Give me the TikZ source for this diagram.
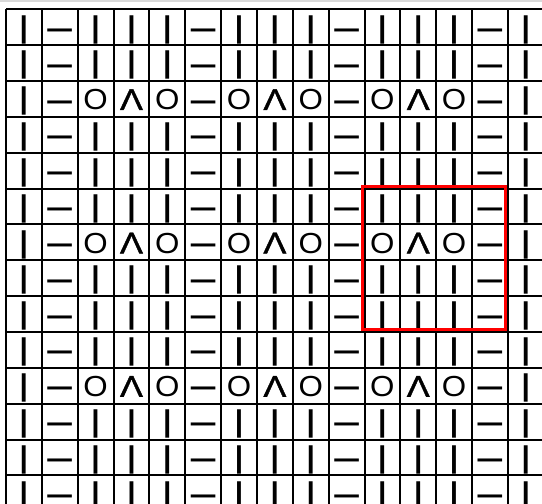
\documentclass[tikz,border=0pt]{standalone}
\usepackage{fontspec}
\setmainfont{Liberation Sans}
\newfontfamily\lamfont[FakeBold=1.2]{Liberation Sans}
\begin{document}
\begin{tikzpicture}[x=1pt,y=-1pt,
  gridline/.style={line width=2pt,black},
  topline/.style={line width=1.5pt,black!15},
  sym/.style={anchor=base,inner sep=0pt},
  barsym/.style={sym,font=\fontsize{30}{30}\selectfont\bfseries},
  dashsym/.style={sym,font=\fontsize{30}{30}\selectfont\bfseries},
  osym/.style={sym,font=\fontsize{29}{29}\selectfont},
  lsym/.style={sym,font=\lamfont\fontsize{30}{30}\selectfont},
  hilite/.style={draw=red,line width=3pt}]
\useasboundingbox (0,0) rectangle (542,504);
\fill[white] (0,0) rectangle (542,504);
\clip (0,0) rectangle (542,504);
\def\cw{35.85}
\def\xo{6}
\def\yo{9.3}
\draw[topline] (0,1) -- (542,1);
% grid
\foreach \i in {0,...,15}
  \draw[gridline] ({\xo+\cw*\i},\yo) -- ({\xo+\cw*\i},{\yo+\cw*14});
\foreach \j in {0,...,14}
  \draw[gridline] (\xo,{\yo+\cw*\j}) -- ({\xo+\cw*15},{\yo+\cw*\j});
% edge bars and purl dashes
\foreach \r in {1,...,14}{
  \foreach \c in {1,15}
    \node[barsym] (s-\r-\c) at ({\xo+\cw*(\c-0.5)},{\yo+\cw*(\r-1)+27.7}) {|};
  \foreach \c in {2,6,10,14}
    \node[dashsym] (s-\r-\c) at ({\xo+\cw*(\c-0.5)},{\yo+\cw*(\r-1)+29}) {\scalebox{0.82}[1]{—}};
}
% plain knit rows
\foreach \r in {1,2,4,5,6,8,9,10,12,13,14}
  \foreach \c in {3,4,5,7,8,9,11,12,13}
    \node[barsym] (s-\r-\c) at ({\xo+\cw*(\c-0.5)},{\yo+\cw*(\r-1)+27.7}) {|};
% lace rows
\foreach \r in {3,7,11}{
  \foreach \c in {3,5,7,9,11,13}
    \node[osym] (s-\r-\c) at ({\xo+\cw*(\c-0.5)},{\yo+\cw*(\r-1)+28.7}) {\scalebox{1.08}[1]{O}};
  \foreach \c in {4,8,12}
    \node[lsym] (s-\r-\c) at ({\xo+\cw*(\c-0.5)},{\yo+\cw*(\r-1)+29}) {\scalebox{1.15}[1]{Λ}};
}
% highlighted repeat
\draw[hilite] (362.7,186) rectangle (505.7,329);
\end{tikzpicture}
\end{document}
